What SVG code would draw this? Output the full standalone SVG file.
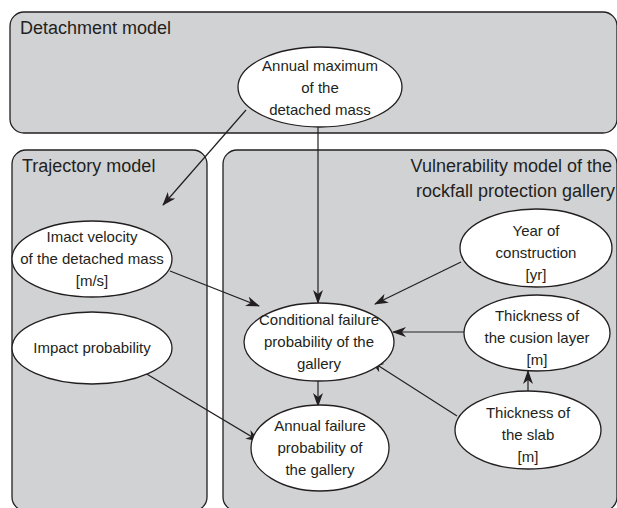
<svg xmlns="http://www.w3.org/2000/svg" width="617" height="508" viewBox="0 0 617 508">
<defs>
<style>
.box{fill:#d1d2d4;stroke:#231f20;stroke-width:1.3}
.node{fill:#ffffff;stroke:#231f20;stroke-width:1.3}
.t{font-family:"Liberation Sans",Arial,sans-serif;font-size:15px;fill:#231f20;text-anchor:middle}
.h{font-family:"Liberation Sans",Arial,sans-serif;font-size:18px;fill:#231f20}
.edge{fill:none;stroke:#231f20;stroke-width:1.2;marker-end:url(#arr)}
</style>
<marker id="arr" viewBox="0 0 14 10" refX="13" refY="5" markerWidth="14" markerHeight="10" markerUnits="userSpaceOnUse" orient="auto">
<path d="M0,0 L14,5 L0,10 L4,5 Z" fill="#231f20"/>
</marker>
</defs>
<rect width="617" height="508" fill="#ffffff"/>
<g id="detachment-model">
<rect class="box" x="10" y="12" width="607" height="121" rx="14"/>
<text class="h" x="20" y="34">Detachment model</text>
</g>
<g id="trajectory-model">
<rect class="box" x="12" y="150" width="195" height="361" rx="14"/>
<text class="h" x="22" y="172">Trajectory model</text>
</g>
<g id="vulnerability-model">
<rect class="box" x="223" y="150" width="394" height="361" rx="14"/>
<text class="h" x="612" y="172" text-anchor="end">Vulnerability model of the</text>
<text class="h" x="615" y="197" text-anchor="end">rockfall protection gallery</text>
</g>
<g id="connectors">
<line class="edge" x1="246" y1="110" x2="163" y2="205"/>
<line class="edge" x1="318" y1="127" x2="318" y2="303"/>
<line class="edge" x1="170" y1="271" x2="259" y2="306"/>
<line class="edge" x1="461" y1="262" x2="375" y2="304"/>
<line class="edge" x1="464" y1="332" x2="393" y2="332"/>
<line class="edge" x1="457" y1="416" x2="371" y2="361"/>
<line class="edge" x1="528" y1="391" x2="528" y2="371"/>
<line class="edge" x1="318" y1="381" x2="318" y2="406"/>
<line class="edge" x1="145" y1="373" x2="259" y2="441"/>
</g>
<g id="annual-maximum">
<ellipse class="node" cx="320" cy="87" rx="82" ry="40"/>
<text class="t" x="320" y="71">Annual maximum</text>
<text class="t" x="320" y="93">of the</text>
<text class="t" x="320" y="115">detached mass</text>
</g>
<g id="impact-velocity">
<ellipse class="node" cx="92" cy="259" rx="80" ry="38"/>
<text class="t" x="92" y="242">Imact velocity</text>
<text class="t" x="92" y="264">of the detached mass</text>
<text class="t" x="92" y="286">[m/s]</text>
</g>
<g id="impact-probability">
<ellipse class="node" cx="92" cy="348" rx="80" ry="36"/>
<text class="t" x="92" y="353">Impact probability</text>
</g>
<g id="conditional-failure">
<ellipse class="node" cx="319" cy="342" rx="75" ry="39"/>
<text class="t" x="319" y="325">Conditional failure</text>
<text class="t" x="319" y="347">probability of the</text>
<text class="t" x="319" y="369">gallery</text>
</g>
<g id="annual-failure">
<ellipse class="node" cx="320" cy="448" rx="69" ry="43"/>
<text class="t" x="320" y="431">Annual failure</text>
<text class="t" x="320" y="453">probability of</text>
<text class="t" x="320" y="475">the gallery</text>
</g>
<g id="year-of-construction">
<ellipse class="node" cx="536" cy="248" rx="76" ry="39"/>
<text class="t" x="536" y="236">Year of</text>
<text class="t" x="536" y="258">construction</text>
<text class="t" x="536" y="280">[yr]</text>
</g>
<g id="thickness-cushion">
<ellipse class="node" cx="537" cy="333" rx="73" ry="38"/>
<text class="t" x="537" y="321">Thickness of</text>
<text class="t" x="537" y="343">the cusion layer</text>
<text class="t" x="537" y="365">[m]</text>
</g>
<g id="thickness-slab">
<ellipse class="node" cx="528" cy="430" rx="73" ry="39"/>
<text class="t" x="528" y="418">Thickness of</text>
<text class="t" x="528" y="440">the slab</text>
<text class="t" x="528" y="462">[m]</text>
</g>
</svg>
